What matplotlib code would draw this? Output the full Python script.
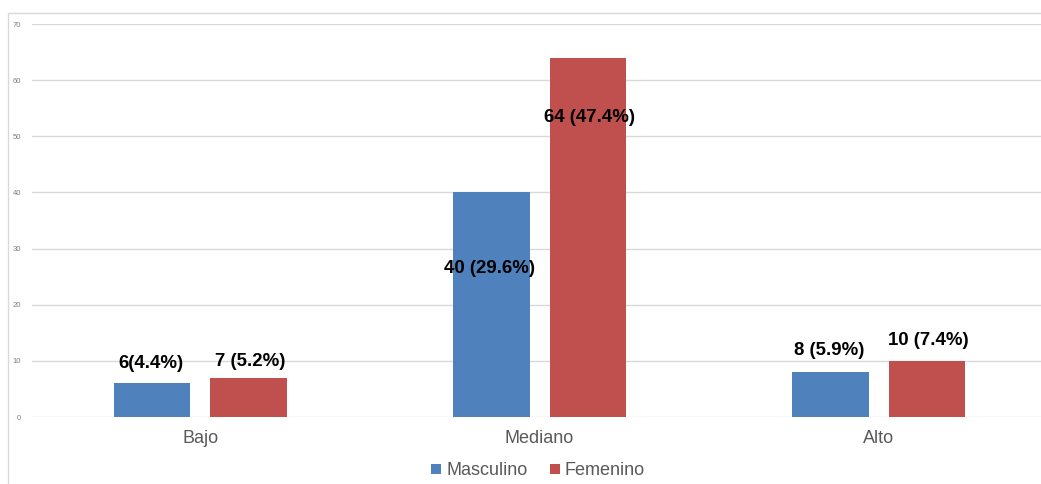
import numpy as np
import matplotlib
matplotlib.use("Agg")
import matplotlib.pyplot as plt
from matplotlib.patches import Rectangle

plt.rcParams['font.family'] = ['Liberation Sans', 'DejaVu Sans']

# Counts per level and sex
niveles = ['Bajo', 'Mediano', 'Alto']
masculino = [6, 40, 8]
femenino = [7, 64, 10]
etiquetas_masc = ['6(4.4%)', '40 (29.6%)', '8 (5.9%)']
etiquetas_fem = ['7 (5.2%)', '64 (47.4%)', '10 (7.4%)']

azul = '#4f81bd'
rojo = '#c0504d'

fig = plt.figure(figsize=(10.41, 4.84), dpi=100)
ax = fig.add_axes([0.0307, 0.1384, 0.973, 0.812])

x = np.arange(len(niveles))
ancho = 0.225
desp = 0.142

b1 = ax.bar(x - desp, masculino, ancho, color=azul, label='Masculino', zorder=3)
b2 = ax.bar(x + desp, femenino, ancho, color=rojo, label='Femenino', zorder=3)

# label offsets in points: above short bars, inside tall ones
off_m = [14.5, -54.5, 15.8]
off_f = [12, -43.4, 14.4]
for xi, v, t, o in zip(x - desp, masculino, etiquetas_masc, off_m):
    ax.annotate(t, (xi - 0.005, v), xytext=(0, o), textcoords='offset points',
                ha='center', va='center', fontsize=13.4, fontweight='bold', zorder=4)
for xi, v, t, o in zip(x + desp, femenino, etiquetas_fem, off_f):
    ax.annotate(t, (xi + 0.005, v), xytext=(0, o), textcoords='offset points',
                ha='center', va='center', fontsize=13.4, fontweight='bold', zorder=4)

ax.set_ylim(0, 70)
ax.set_xlim(-0.497, 2.49)
ax.set_yticks(range(0, 71, 10))
ax.yaxis.grid(True, color='#d9d9d9', linewidth=1, zorder=0)
ax.tick_params(axis='y', length=0, labelsize=5.5, labelcolor='#7f7f7f', pad=8)
ax.set_xticks(x)
ax.set_xticklabels(niveles)
ax.tick_params(axis='x', length=0, labelsize=13, labelcolor='#595959', pad=9)
for s in ax.spines.values():
    s.set_visible(False)

fig.legend(handles=[b1, b2], loc='center', bbox_to_anchor=(0.517, 0.027), ncol=2,
           frameon=False, fontsize=13, labelcolor='#595959', handlelength=0.55,
           handleheight=0.55, handletextpad=0.3, columnspacing=1.2)

# outer chart border
fig.patches.append(Rectangle((8 / 1041, -0.1), 1.2, (484 - 13) / 484 + 0.1,
                             transform=fig.transFigure, fill=False,
                             edgecolor='#d9d9d9', linewidth=1))

fig.savefig('out.png', dpi=100)
